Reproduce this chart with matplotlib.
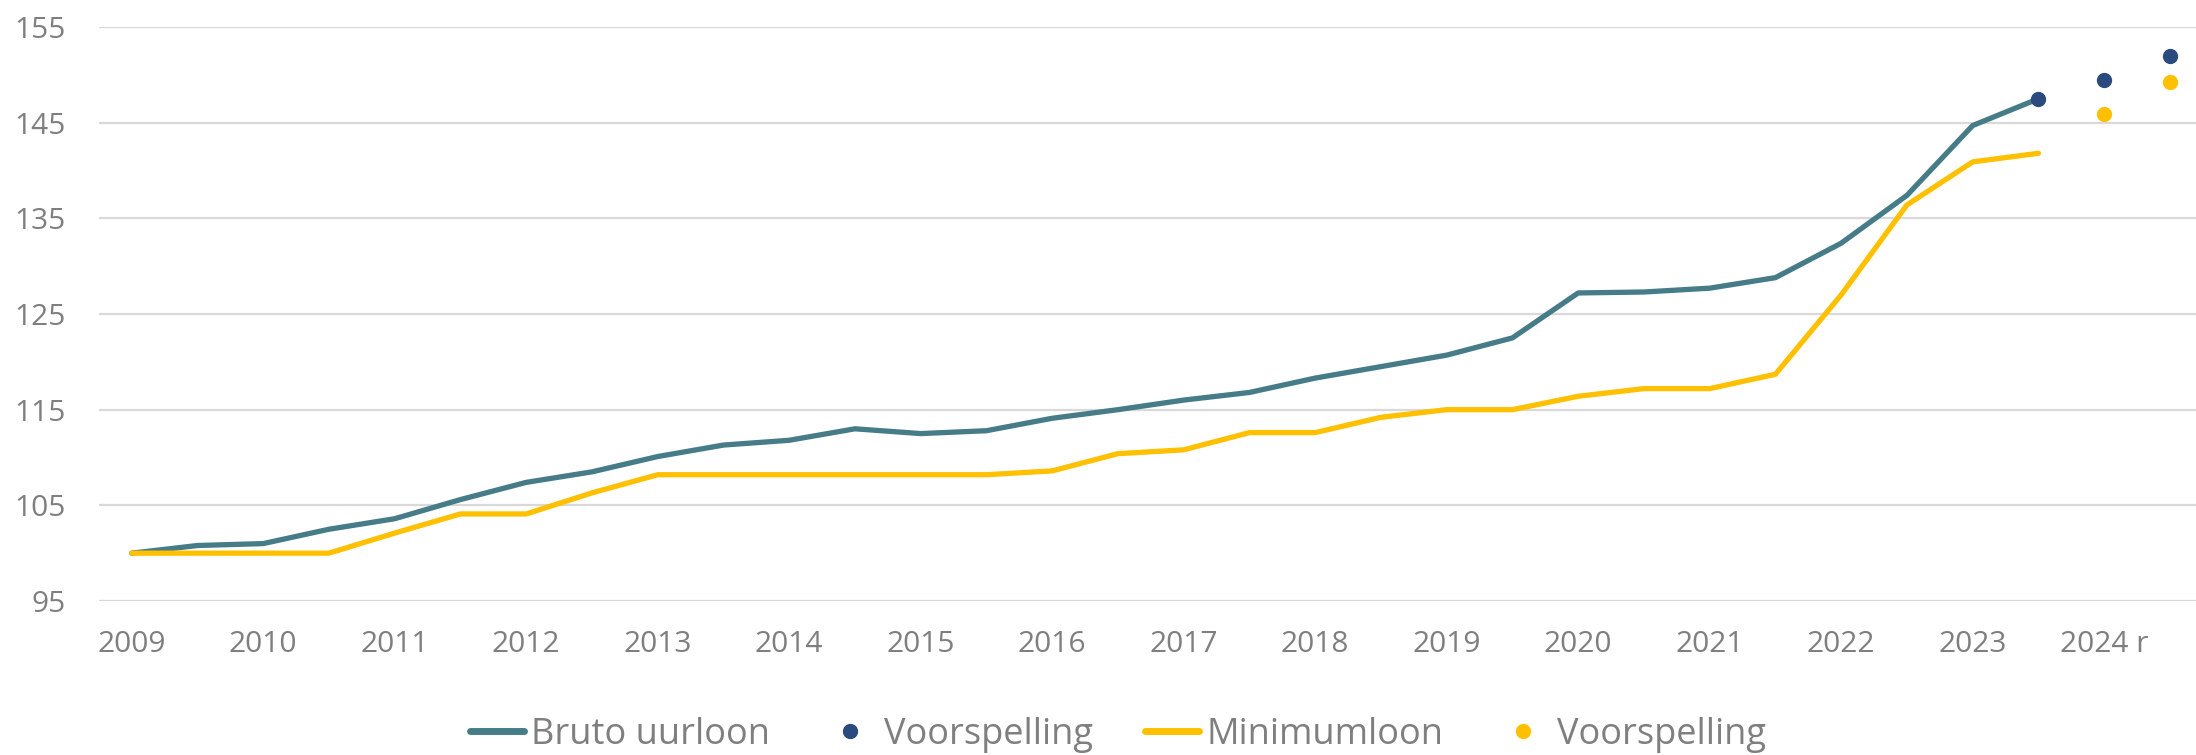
import numpy as np
import matplotlib
matplotlib.use("Agg")
import matplotlib.pyplot as plt
from matplotlib.lines import Line2D

plt.rcParams['font.family'] = ['Open Sans', 'DejaVu Sans']

# Half-year categories 2009 .. 2024.5 (labels only on whole years)
year_labels = ['2009', '2010', '2011', '2012', '2013', '2014', '2015', '2016',
               '2017', '2018', '2019', '2020', '2021', '2022', '2023', '2024 r']

bruto_uurloon = [100.0, 100.8, 101.0, 102.5, 103.6, 105.6, 107.4, 108.5, 110.1, 111.3,
                 111.8, 113.0, 112.5, 112.8, 114.1, 115.0, 116.0, 116.8, 118.3, 119.5,
                 120.7, 122.5, 127.2, 127.3, 127.7, 128.8, 132.4, 137.4, 144.7, 147.5]
minimumloon = [100.0, 100.0, 100.0, 100.0, 102.1, 104.1, 104.1, 106.3, 108.2, 108.2,
               108.2, 108.2, 108.2, 108.2, 108.6, 110.4, 110.8, 112.6, 112.6, 114.2,
               115.0, 115.0, 116.4, 117.2, 117.2, 118.7, 127.0, 136.4, 140.9, 141.8]
# forecasts at categories 2023.5, 2024, 2024.5
voorspelling_bruto = [147.5, 149.5, 152.0]
voorspelling_min = [np.nan, 145.9, 149.2]

n_cat = 2 * len(year_labels)
x_line = np.arange(len(bruto_uurloon))
x_fc = np.arange(n_cat - 3, n_cat)

teal = '#467C87'
gold = '#FFC000'
navy = '#2A4A80'
grey_txt = '#7F7F7F'
grid_c = '#D9D9D9'

fig = plt.figure(figsize=(21.96, 7.55), dpi=100)
ax = fig.add_axes([98.8 / 2196, 154 / 755, 2104 / 2196, 574 / 755])

ax.set_xlim(-0.5, n_cat - 0.5)
ax.set_ylim(95, 155)
ax.set_yticks(np.arange(95, 156, 10))
ax.yaxis.grid(True, color=grid_c, linewidth=1.6)
ax.set_axisbelow(True)
for s in ax.spines.values():
    s.set_visible(False)

ax.set_xticks(np.arange(0, n_cat, 2))
ax.set_xticklabels(year_labels)
ax.tick_params(axis='both', length=0, labelsize=21.5, labelcolor=grey_txt)
ax.tick_params(axis='x', pad=21)
ax.tick_params(axis='y', pad=24)

ax.plot(x_line, bruto_uurloon, color=teal, lw=3.8, solid_capstyle='round',
        solid_joinstyle='round', zorder=3)
ax.plot(x_line, minimumloon, color=gold, lw=3.8, solid_capstyle='round',
        solid_joinstyle='round', zorder=3)
ax.plot(x_fc, voorspelling_bruto, linestyle='none', marker='o', ms=10,
        color=navy, zorder=4)
ax.plot(x_fc, voorspelling_min, linestyle='none', marker='o', ms=10,
        color=gold, zorder=4)

handles = [
    Line2D([], [], color=teal, lw=5, solid_capstyle='round'),
    Line2D([], [], linestyle='none', marker='o', ms=10, color=navy),
    Line2D([], [], color=gold, lw=5, solid_capstyle='round'),
    Line2D([], [], linestyle='none', marker='o', ms=10, color=gold),
]
labels = ['Bruto uurloon', 'Voorspelling', 'Minimumloon', 'Voorspelling']
leg = fig.legend(handles, labels, loc='center', bbox_to_anchor=(1118 / 2196, 1 - 735 / 755),
                 ncol=4, frameon=False, fontsize=26, handlelength=1.5,
                 handletextpad=0.2, columnspacing=1.45, labelcolor=grey_txt,
                 borderaxespad=0, borderpad=0)

fig.savefig('out.png', dpi=100)
